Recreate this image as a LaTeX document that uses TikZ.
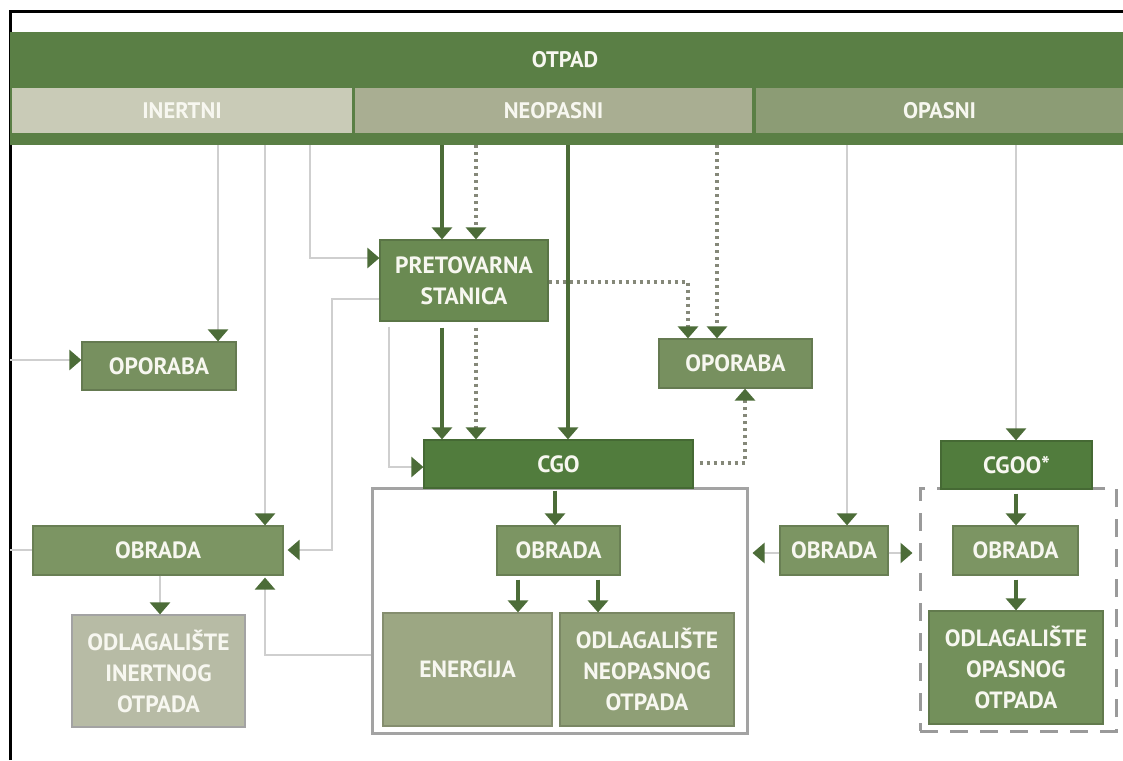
\documentclass[tikz,border=0pt]{standalone}
\usepackage{fontspec}
\setmainfont{PT Sans}
\usetikzlibrary{arrows.meta}
\definecolor{hdrgreen}{HTML}{5A7F45}
\definecolor{inertcol}{HTML}{C9CBB7}
\definecolor{neocol}{HTML}{A9AE92}
\definecolor{opacol}{HTML}{8C9C75}
\definecolor{pretcol}{HTML}{6A8A52}
\definecolor{cgocol}{HTML}{517C3D}
\definecolor{oporcol}{HTML}{77905F}
\definecolor{obrcol}{HTML}{7C9563}
\definecolor{odlIcol}{HTML}{B7BBA5}
\definecolor{energcol}{HTML}{9CA783}
\definecolor{odlNcol}{HTML}{8F9F76}
\definecolor{odlOcol}{HTML}{73905B}
\definecolor{linegray}{HTML}{CFCFCF}
\definecolor{dotgray}{HTML}{858879}
\definecolor{arrgreen}{HTML}{4C6C38}
\definecolor{boxgray}{HTML}{A3A3A3}
\definecolor{dashgray}{HTML}{9A9A9A}
\definecolor{txtcol}{HTML}{F7F7F0}
\tikzset{
  lbl/.style={text=txtcol, font=\bfseries\fontsize{23.5}{31}\selectfont, align=center},
  hlbl/.style={text=txtcol, font=\bfseries\fontsize{22.5}{26}\selectfont, align=center},
  box/.style={rectangle, inner sep=0pt, lbl, fill=#1, draw=#1!85!black, line width=1.2pt},
  band/.style={rectangle, inner sep=0pt, hlbl, fill=#1, minimum height=45pt},
  gline/.style={draw=linegray, line width=2.5pt},
  sline/.style={draw=arrgreen, line width=4pt},
  dline/.style={draw=dotgray, line width=3.2pt, dash pattern=on 3pt off 4pt},
  tip/.style={-{Triangle[width=20pt,length=12pt,color=arrgreen]}},
}
\begin{document}
\begin{tikzpicture}[x=1pt,y=-1pt]
\useasboundingbox (0,0) rectangle (1123,760);
\fill[white] (0,0) rectangle (1123,760);
% frame
\draw[line width=3pt] (10,760) -- (10,12) -- (1123,12);
% header
\node[rectangle, inner sep=0pt, fill=hdrgreen, minimum width=1113pt, minimum height=113pt] (hdr) at (566.5,88.5) {};
\node[hlbl] (otpad) at (565,60) {OTPAD};
\node[band=inertcol, minimum width=340pt] (inertni) at (182,110.5) {INERTNI};
\node[band=neocol, minimum width=397pt] (neopasni) at (553.5,110.5) {NEOPASNI};
\node[band=opacol, minimum width=367pt] (opasni) at (939.5,110.5) {OPASNI};
% containers
\node[rectangle, draw=boxgray, line width=3pt, fill=white, minimum width=375pt, minimum height=245pt] (cgobox) at (559.5,610.5) {};
\node[rectangle, draw=dashgray, line width=3pt, dash pattern=on 18pt off 12pt, minimum width=196pt, minimum height=243pt] (dashbox) at (1018,609.5) {};
% boxes
\node[box=pretcol, minimum width=168pt, minimum height=81pt] (pret) at (464,280.5) {PRETOVARNA\\STANICA};
\node[box=oporcol, minimum width=154pt, minimum height=48pt] (opoL) at (159,366) {OPORABA};
\node[box=oporcol, minimum width=153pt, minimum height=49pt] (opoR) at (735.5,363.5) {OPORABA};
\node[box=cgocol, minimum width=269pt, minimum height=48pt] (cgo) at (558.5,464) {CGO};
\node[box=obrcol, minimum width=250pt, minimum height=49pt] (obrL) at (158,550.5) {OBRADA};
\node[box=odlIcol, draw=boxgray, minimum width=173pt, minimum height=112pt] (odlI) at (158.5,671) {ODLAGALIŠTE\\INERTNOG\\OTPADA};
\node[box=obrcol, minimum width=123pt, minimum height=49pt] (obrC) at (558.5,550.5) {OBRADA};
\node[box=energcol, minimum width=169pt, minimum height=113pt] (energ) at (467.5,669.5) {ENERGIJA};
\node[box=odlNcol, minimum width=174pt, minimum height=113pt] (odlN) at (647,669.5) {ODLAGALIŠTE\\NEOPASNOG\\OTPADA};
\node[box=obrcol, minimum width=108pt, minimum height=49pt] (obrM) at (834,550.5) {OBRADA};
\node[box=cgocol, minimum width=151pt, minimum height=48pt] (cgoo) at (1016.5,465) {CGOO*};
\node[box=obrcol, minimum width=125pt, minimum height=49pt] (obrR) at (1015.5,550.5) {OBRADA};
\node[box=odlOcol, minimum width=174pt, minimum height=113pt] (odlO) at (1016,667.5) {ODLAGALIŠTE\\OPASNOG\\OTPADA};
% gray connectors
\coordinate (t1) at (218,145); \draw[gline,tip] (t1) -- (t1 |- opoL.north);
\coordinate (t2) at (265,145); \draw[gline,tip] (t2) -- (t2 |- obrL.north);
\coordinate (t3) at (310,145); \coordinate (b3) at (310,258);
\draw[gline,tip] (t3) -- (b3) -- (b3 -| pret.west);
\coordinate (l4) at (10,360); \draw[gline,tip] (l4) -- (l4 -| opoL.west);
\coordinate (l5) at (10,550); \draw[gline] (l5) -- (l5 -| obrL.west);
\coordinate (s6) at (pret.west |- 0,299); \coordinate (b6) at (332,299); \coordinate (c6) at (332,550);
\draw[gline,tip,shorten >=4pt] (s6) -- (b6) -- (c6) -- (c6 -| obrL.east);
\coordinate (s7) at (389,0 |- pret.south); \coordinate (b7) at (389,467);
\draw[gline,tip,shorten <=5pt] (s7) -- (b7) -- (b7 -| cgo.west);
\coordinate (s8) at (160,0 |- obrL.south); \draw[gline,tip] (s8) -- (s8 |- odlI.north);
\coordinate (s9) at (cgobox.west |- 0,655); \coordinate (b9) at (265,655);
\draw[gline,tip,shorten >=2pt] (s9) -- (b9) -- (b9 |- obrL.south);
\coordinate (t21) at (847,145); \draw[gline,tip] (t21) -- (t21 |- obrM.north);
\coordinate (s22) at (obrM.west |- 0,553); \draw[gline,tip,shorten >=4pt] (s22) -- (s22 -| cgobox.east);
\coordinate (s23) at (obrM.east |- 0,553); \draw[gline,tip,shorten >=6pt] (s23) -- (s23 -| dashbox.west);
\coordinate (t24) at (1016,145); \draw[gline,tip] (t24) -- (t24 |- cgoo.north);
% solid green connectors
\coordinate (t10) at (442,145); \draw[sline,tip] (t10) -- (t10 |- pret.north);
\coordinate (t12) at (568,145); \draw[sline,tip] (t12) -- (t12 |- cgo.north);
\coordinate (s13) at (442,0 |- pret.south); \draw[sline,tip,shorten <=6pt] (s13) -- (s13 |- cgo.north);
\coordinate (s18) at (555,0 |- cgobox.north); \draw[sline,tip,shorten <=4pt] (s18) -- (s18 |- obrC.north);
\coordinate (s19) at (518,0 |- obrC.south); \draw[sline,tip,shorten <=4pt] (s19) -- (s19 |- energ.north);
\coordinate (s20) at (598,0 |- obrC.south); \draw[sline,tip,shorten <=4pt] (s20) -- (s20 |- odlN.north);
\coordinate (s25) at (1016,0 |- cgoo.south); \draw[sline,tip,shorten <=4pt] (s25) -- (s25 |- obrR.north);
\coordinate (s26) at (1016,0 |- obrR.south); \draw[sline,tip,shorten <=4pt] (s26) -- (s26 |- odlO.north);
% dotted connectors
\coordinate (t11) at (476,145); \draw[dline,tip] (t11) -- (t11 |- pret.north);
\coordinate (s14) at (476,0 |- pret.south); \draw[dline,tip,shorten <=6pt] (s14) -- (s14 |- cgo.north);
\coordinate (s15) at (pret.east |- 0,282); \coordinate (b15) at (688,282);
\draw[dline,tip] (s15) -- (b15) -- (b15 |- opoR.north);
\coordinate (t16) at (717,145); \draw[dline,tip] (t16) -- (t16 |- opoR.north);
\coordinate (s17) at (cgo.east |- 0,463); \coordinate (b17) at (745,463);
\draw[dline,tip,shorten <=6pt] (s17) -- (b17) -- (b17 |- opoR.south);
\end{tikzpicture}
\end{document}
